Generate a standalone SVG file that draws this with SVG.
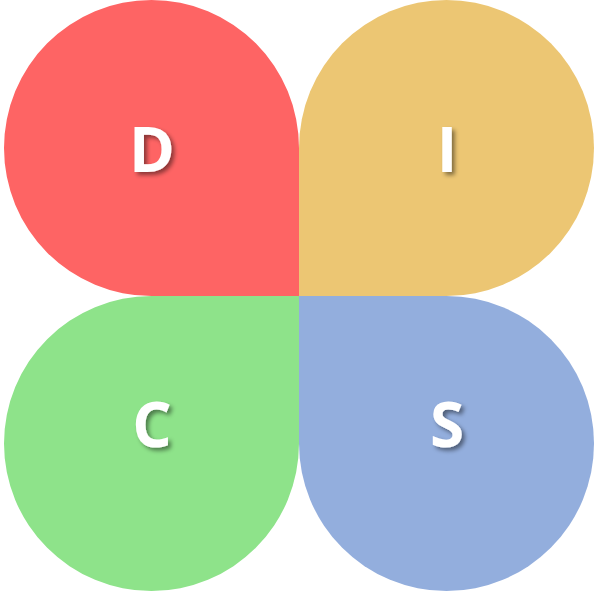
<svg xmlns="http://www.w3.org/2000/svg" width="607" height="591" viewBox="0 0 607 591">
<defs>
<filter id="sh" x="-50%" y="-50%" width="200%" height="200%">
<feDropShadow dx="3" dy="3" stdDeviation="2" flood-color="#000" flood-opacity="0.45"/>
</filter>
<style>
.lbl{font-family:"Open Sans","Liberation Sans",sans-serif;font-weight:bold;font-size:62px;fill:#fff;text-anchor:middle;filter:url(#sh)}
</style>
</defs>
<rect width="607" height="591" fill="#fff"/>
<g id="D">
<path d="M299 296 L151.5 296 A147.5 148 0 0 1 4 148 A147.5 148 0 0 1 151.5 0 A147.5 148 0 0 1 299 148 Z" fill="#FE6464"/>
<text class="lbl" x="152" y="172">D</text>
</g>
<g id="I">
<path d="M299 296 L299 148 A147.5 148 0 0 1 446.5 0 A147.5 148 0 0 1 594 148 A147.5 148 0 0 1 446.5 296 Z" fill="#ECC673"/>
<text class="lbl" x="447" y="172">I</text>
</g>
<g id="C">
<path d="M299 296 L299 443.5 A147.5 147.5 0 0 1 151.5 591 A147.5 147.5 0 0 1 4 443.5 A147.5 147.5 0 0 1 151.5 296 Z" fill="#8EE38A"/>
<text class="lbl" x="152" y="447">C</text>
</g>
<g id="S">
<path d="M299 296 L446.5 296 A147.5 147.5 0 0 1 594 443.5 A147.5 147.5 0 0 1 446.5 591 A147.5 147.5 0 0 1 299 443.5 Z" fill="#93AEDD"/>
<text class="lbl" x="447" y="447">S</text>
</g>
<g id="connectors"/>
</svg>
